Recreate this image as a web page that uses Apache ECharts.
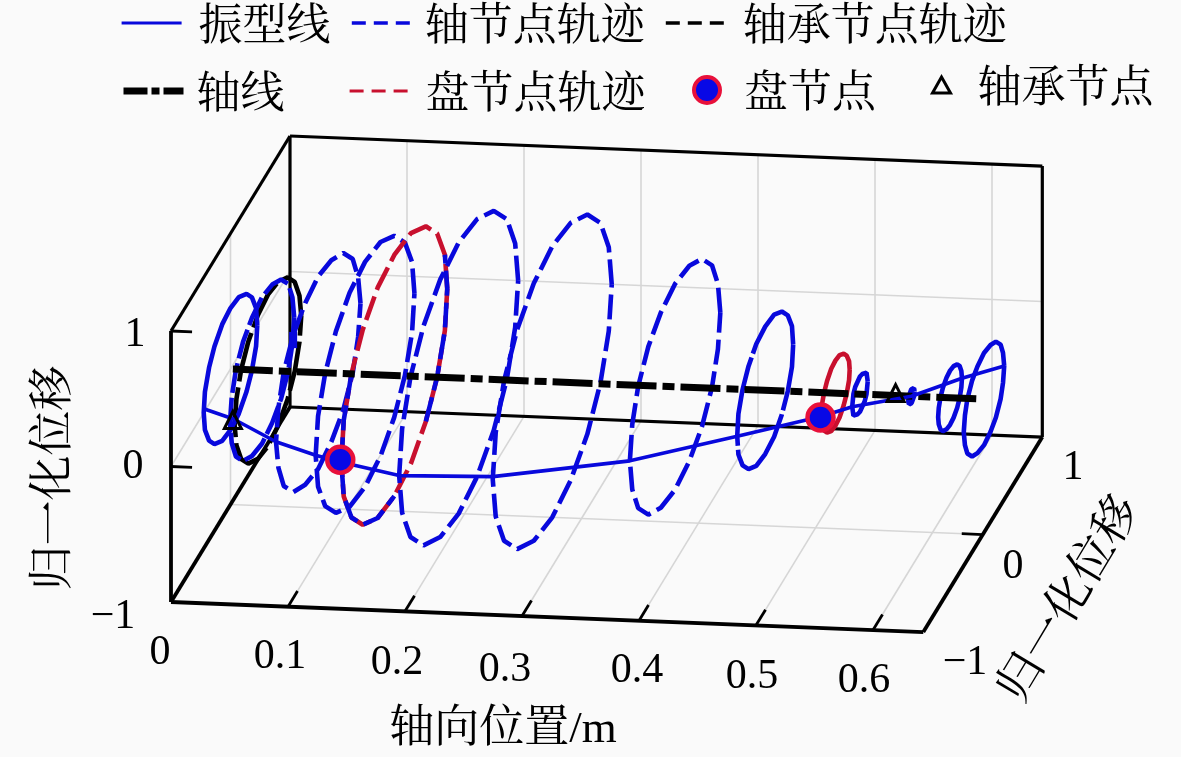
<!DOCTYPE html>
<html><head><meta charset="utf-8">
<style>html,body{margin:0;padding:0;background:#fafafa}#c{width:1181px;height:757px}</style>
<script src="https://cdn.jsdelivr.net/npm/echarts@6/dist/echarts.min.js"></script>
</head><body><div id="c"></div>
<script>
// Axis ticks
const axialTicks=[0,0.1,0.2,0.3,0.4,0.5,0.6];
const axialMax=0.643;
const axialTickLabels=['0','0.1','0.2','0.3','0.4','0.5','0.6'];
const verticalTickLabels=['1','0','\u22121'];
const lateralTickLabels=['1','0','\u22121'];
// Orbits: axial position (m) and [lateral, vertical] normalised displacement
const posO1=0.0;
const orbitO1=[[.45,0],[.43,.14],[.36,.27],[.27,.36],[.14,.43],[0,.45],[-.14,.43],[-.27,.36],[-.36,.27],[-.43,.14],[-.45,0],[-.43,-.14],[-.36,-.27],[-.27,-.36],[-.14,-.43],[0,-.45],[.14,-.43],[.27,-.36],[.36,-.27],[.43,-.14]];
const posO2=0.027;
const orbitO2=[[.54,0],[.51,.17],[.44,.32],[.32,.44],[.17,.51],[0,.54],[-.17,.51],[-.32,.44],[-.44,.32],[-.51,.17],[-.54,0],[-.51,-.17],[-.44,-.32],[-.32,-.44],[-.17,-.51],[0,-.54],[.17,-.51],[.32,-.44],[.44,-.32],[.51,-.17]];
const posBearing1=0.032;
const orbitBearing1=[[.56,0],[.53,.17],[.45,.33],[.33,.45],[.17,.53],[0,.56],[-.17,.53],[-.33,.45],[-.45,.33],[-.53,.17],[-.56,0],[-.53,-.17],[-.45,-.33],[-.33,-.45],[-.17,-.53],[0,-.56],[.17,-.53],[.33,-.45],[.45,-.33],[.53,-.17]];
const posO3=0.075;
const orbitO3=[[.71,0],[.67,.22],[.58,.42],[.42,.58],[.22,.67],[0,.71],[-.22,.67],[-.42,.58],[-.58,.42],[-.67,.22],[-.71,0],[-.67,-.22],[-.58,-.42],[-.42,-.58],[-.22,-.67],[0,-.71],[.22,-.67],[.42,-.58],[.58,-.42],[.67,-.22]];
const posO4=0.115;
const orbitO4=[[.83,0],[.79,.26],[.67,.49],[.49,.67],[.26,.79],[0,.83],[-.26,.79],[-.49,.67],[-.67,.49],[-.79,.26],[-.83,0],[-.79,-.26],[-.67,-.49],[-.49,-.67],[-.26,-.79],[0,-.83],[.26,-.79],[.49,-.67],[.67,-.49],[.79,-.26]];
const posDisc1=0.14;
const orbitDisc1=[[.89,0],[.85,.28],[.72,.53],[.53,.72],[.28,.85],[0,.89],[-.28,.85],[-.53,.72],[-.72,.53],[-.85,.28],[-.89,0],[-.85,-.28],[-.72,-.53],[-.53,-.72],[-.28,-.85],[0,-.89],[.28,-.85],[.53,-.72],[.72,-.53],[.85,-.28]];
// parts of the same orbit where the blue shaft trace covers the red one
const shaftOverDisc1A=[[.53,-.72],[.72,-.53],[.85,-.28],[.89,0],[.85,.28]];
const shaftOverDisc1B=[[-.72,.53],[-.85,.28],[-.89,0],[-.85,-.28],[-.72,-.53],[-.53,-.72],[-.28,-.85],[0,-.89]];
const posO6=0.195;
const orbitO6=[[1,0],[.95,.31],[.81,.59],[.59,.81],[.31,.95],[0,1],[-.31,.95],[-.59,.81],[-.81,.59],[-.95,.31],[-1,0],[-.95,-.31],[-.81,-.59],[-.59,-.81],[-.31,-.95],[0,-1],[.31,-.95],[.59,-.81],[.81,-.59],[.95,-.31]];
const posO7=0.275;
const orbitO7=[[1,0],[.95,.31],[.81,.59],[.59,.81],[.31,.95],[0,1],[-.31,.95],[-.59,.81],[-.81,.59],[-.95,.31],[-1,0],[-.95,-.31],[-.81,-.59],[-.59,-.81],[-.31,-.95],[0,-1],[.31,-.95],[.59,-.81],[.81,-.59],[.95,-.31]];
const posO8=0.38;
const orbitO8=[[.76,0],[.72,.24],[.62,.45],[.45,.62],[.24,.72],[0,.76],[-.24,.72],[-.45,.62],[-.62,.45],[-.72,.24],[-.76,0],[-.72,-.24],[-.62,-.45],[-.45,-.62],[-.24,-.72],[0,-.76],[.24,-.72],[.45,-.62],[.62,-.45],[.72,-.24]];
const posO9=0.457;
const orbitO9=[[.47,0],[.45,.15],[.38,.28],[.28,.38],[.15,.45],[0,.47],[-.15,.45],[-.28,.38],[-.38,.28],[-.45,.15],[-.47,0],[-.45,-.15],[-.38,-.28],[-.28,-.38],[-.15,-.45],[0,-.47],[.15,-.45],[.28,-.38],[.38,-.28],[.45,-.15]];
const posDisc2=0.517;
const orbitDisc2=[[.24,0],[.23,.07],[.19,.14],[.14,.19],[.07,.23],[0,.24],[-.07,.23],[-.14,.19],[-.19,.14],[-.23,.07],[-.24,0],[-.23,-.07],[-.19,-.14],[-.14,-.19],[-.07,-.23],[0,-.24],[.07,-.23],[.14,-.19],[.19,-.14],[.23,-.07]];
const posO11=0.538;
const orbitO11=[[.13,0],[.12,.04],[.11,.08],[.08,.11],[.04,.12],[0,.13],[-.04,.12],[-.08,.11],[-.11,.08],[-.12,.04],[-.13,0],[-.12,-.04],[-.11,-.08],[-.08,-.11],[-.04,-.12],[0,-.13],[.04,-.12],[.08,-.11],[.11,-.08],[.12,-.04]];
const posO12=0.582;
const orbitO12=[[.05,0],[.04,.03],[0,.05],[-.04,.03],[-.05,0],[-.04,-.03],[0,-.05],[.04,-.03]];
const posO13=0.615;
const orbitO13=[[.2,0],[.19,.06],[.16,.12],[.12,.16],[.06,.19],[0,.2],[-.06,.19],[-.12,.16],[-.16,.12],[-.19,.06],[-.2,0],[-.19,-.06],[-.16,-.12],[-.12,-.16],[-.06,-.19],[0,-.2],[.06,-.19],[.12,-.16],[.16,-.12],[.19,-.06]];
const posO14=0.644;
const orbitO14=[[.34,0],[.32,.11],[.28,.2],[.2,.28],[.11,.32],[0,.34],[-.11,.32],[-.2,.28],[-.28,.2],[-.32,.11],[-.34,0],[-.32,-.11],[-.28,-.2],[-.2,-.28],[-.11,-.32],[0,-.34],[.11,-.32],[.2,-.28],[.28,-.2],[.32,-.11]];
const posSpot=0.052;
const spotTrace=[[.03,.15],[.03,.27]];
// Mode shape: [axial, lateral, vertical]
const modeShape=[[0,-.45,.03],[.03,-.54,.03],[.075,-.71,0],[.115,-.83,0],[.14,-.89,0],[.195,-1,0],[.275,-1,.02],[.38,-.76,0],[.457,-.47,0],[.517,-.24,0],[.538,-.13,0],[.582,0,0],[.615,.2,0],[.644,.34,0]];
const shaftAxis=[[0.002,0,0],[0.642,0,0]];
const discNodes=[[.135,-.81,-.04],[.517,-.25,0]];
const bearingNodes=[[.03,-.55,.03],[.57,-.03,.04]];

const BLUE='#0808dc',RED='#c8102e',BLACK='#000',GRAY='#d6d6d6';
const FONT='"Liberation Serif","Noto Serif CJK SC","Noto Sans CJK SC",serif';
const CJK='"Noto Serif CJK SC","Noto Sans CJK SC",serif';
function P(a,d,h){return [171+1170*a+59.5*(d+1),602+46.7*a-135.5*(h+1)-97.5*(d+1)];}
const series=[];
function seg(pts,color,width,z){series.push({type:'line',data:pts,symbol:'none',silent:true,clip:false,z:z,animation:false,lineStyle:{color:color,width:width}});}
// grid lines
axialTicks.forEach(a=>{seg([P(a,1,-1),P(a,1,1)],GRAY,1.6,1);seg([P(a,-1,-1),P(a,1,-1)],GRAY,1.6,1);});
seg([P(0,1,0),P(axialMax,1,0)],GRAY,1.6,1);
seg([P(0,0,-1),P(axialMax,0,-1)],GRAY,1.6,1);
seg([P(0,0,-1),P(0,0,1)],GRAY,1.6,1);
seg([P(0,-1,0),P(0,1,0)],GRAY,1.6,1);
// box
seg([P(0,-1,-1),P(axialMax,-1,-1)],BLACK,3.8,2);
seg([P(axialMax,-1,-1),P(axialMax,1,-1)],BLACK,3.8,2);
seg([P(axialMax,1,-1),P(axialMax,1,1)],BLACK,3.2,2);
seg([P(axialMax,1,1),P(0,1,1)],BLACK,3.2,2);
seg([P(0,1,1),P(0,1,-1)],BLACK,3.2,2);
seg([P(0,1,-1),P(axialMax,1,-1)],BLACK,3.2,2);
seg([P(0,-1,1),P(0,1,1)],BLACK,3.2,2);
seg([P(0,-1,1),P(0,-1,-1)],BLACK,3.8,2);
seg([P(0,-1,-1),P(0,1,-1)],BLACK,3.8,2);
// ticks
axialTicks.slice(1).forEach(a=>seg([P(a,-1,-1),P(a,-.84,-1)],BLACK,2.8,2));
[0,1].forEach(h=>seg([P(0,-1,h),P(.018,-1,h)],BLACK,2.8,2));
seg([P(axialMax,0,-1),P(axialMax-.018,0,-1)],BLACK,2.8,2);
// orbits
function trace(name,pos,pts2,color,dash,width){
  series.push({name:name,type:'line',data:pts2.map(p=>P(pos,p[0],p[1])),symbol:'none',silent:true,clip:false,z:3,animation:false,
    lineStyle:{color:color,width:width||4.6,type:dash||'solid'}});
}
function orbit(name,pos,ring,color,dash,width){trace(name,pos,ring.concat([ring[0]]),color,dash,width);}
const D=[25,7];
orbit('轴承节点轨迹',posBearing1,orbitBearing1,BLACK,[50,6]);
orbit('轴节点轨迹',posO1,orbitO1,BLUE,'solid');
orbit('轴节点轨迹',posO2,orbitO2,BLUE,[30,5]);
orbit('轴节点轨迹',posO3,orbitO3,BLUE,D);
orbit('轴节点轨迹',posO4,orbitO4,BLUE,D);
orbit('盘节点轨迹',posDisc1,orbitDisc1,RED,D);
trace('轴节点轨迹',posDisc1,shaftOverDisc1A,BLUE,D);
trace('轴节点轨迹',posDisc1,shaftOverDisc1B,BLUE,D);
orbit('轴节点轨迹',posO6,orbitO6,BLUE,D);
orbit('轴节点轨迹',posO7,orbitO7,BLUE,D);
orbit('轴节点轨迹',posO8,orbitO8,BLUE,D);
orbit('轴节点轨迹',posO9,orbitO9,BLUE,[90,4]);
orbit('盘节点轨迹',posDisc2,orbitDisc2,RED,'solid');
orbit('轴节点轨迹',posO11,orbitO11,BLUE,'solid');
orbit('轴节点轨迹',posO12,orbitO12,BLUE,'solid',5);
orbit('轴节点轨迹',posO13,orbitO13,BLUE,'solid');
orbit('轴节点轨迹',posO14,orbitO14,BLUE,'solid');
trace('轴节点轨迹',posSpot,spotTrace,BLUE,'solid',8);
series.push({name:'轴线',type:'line',data:shaftAxis.map(p=>P(p[0],p[1],p[2])),symbol:'none',silent:true,clip:false,z:4,animation:false,
  lineStyle:{color:BLACK,width:7,type:[40,6,12,6]}});
series.push({name:'振型线',type:'line',data:modeShape.map(p=>P(p[0],p[1],p[2])),symbol:'none',silent:true,clip:false,z:5,animation:false,
  lineStyle:{color:BLUE,width:3.6}});
series.push({name:'盘节点',type:'scatter',data:discNodes.map(p=>P(p[0],p[1],p[2])),symbol:'circle',symbolSize:26,silent:true,clip:false,z:6,animation:false,
  itemStyle:{color:'#0808e6',borderColor:'#e8103a',borderWidth:4.5,opacity:1}});
series.push({name:'轴承节点',type:'scatter',data:bearingNodes.map(p=>P(p[0],p[1],p[2])),symbol:'triangle',symbolSize:17,silent:true,clip:false,z:6,animation:false,
  itemStyle:{color:'rgba(0,0,0,0)',borderColor:BLACK,borderWidth:3,opacity:1}});
const noSymbol={color:'rgba(0,0,0,0)',borderColor:'rgba(0,0,0,0)',borderWidth:0};
function leg(name,left,top,w,h,ls,gap,icon,st){
  const o={data:[icon?{name:name,icon:icon}:name],left:left,top:top,itemWidth:w,itemHeight:h,padding:0,orient:'horizontal',selectedMode:false,
    textStyle:{fontFamily:CJK,fontSize:44,color:'#000',padding:[0,0,0,gap]}};
  if(ls)o.lineStyle=Object.assign({opacity:1},ls);
  o.itemStyle=st||noSymbol; return o;
}
const legends=[
 leg('振型线',120,1,60,42,{color:BLUE,width:3.2},12),
 leg('轴节点轨迹',350,1,62,42,{color:BLUE,width:3.6,type:[14,8]},6),
 leg('轴承节点轨迹',664,1,63,42,{color:BLACK,width:3.6,type:[14,8]},9),
 leg('轴线',120,69,60,42,{color:BLACK,width:7,type:[24,4,8,4]},8),
 leg('盘节点轨迹',348,69,64,42,{color:RED,width:3.2,type:[14,8]},7),
 leg('盘节点',692,68,26,26,null,19,'circle',{color:'#0808e6',borderColor:'#e8103a',borderWidth:4,opacity:1}),
 leg('轴承节点',931,63,18,16,null,22,'triangle',{color:'rgba(0,0,0,0)',borderColor:BLACK,borderWidth:3,opacity:1})
];
function txt(s,x,y,size,font,rot){return {type:'text',x:x,y:y,rotation:rot||0,z:20,style:{text:s,x:0,y:0,fill:'#000',fontSize:size,fontFamily:font,textAlign:'center',textVerticalAlign:'middle'}};}
const axX=[[160,653],[280,657],[397,663],[505,670],[637,671],[752,677],[864,681]];
const axV=[[135,335],[133,467],[113,617]];
const axD=[[1073,468],[1013,567],[965,663]];
const graphic=[];
axialTickLabels.forEach((s,i)=>graphic.push(txt(s,axX[i][0],axX[i][1],42,FONT)));
verticalTickLabels.forEach((s,i)=>graphic.push(txt(s,axV[i][0],axV[i][1],42,FONT)));
lateralTickLabels.forEach((s,i)=>graphic.push(txt(s,axD[i][0],axD[i][1],42,FONT)));
graphic.push(txt('轴向位置/m',503,730,45,FONT));
graphic.push(txt('归一化位移',50,478,45,CJK,Math.PI/2));
graphic.push(txt('归一化位移',1066,597,46,CJK,59*Math.PI/180));
const chart=echarts.init(document.getElementById('c'),null,{renderer:'canvas',width:1181,height:757});
chart.setOption({backgroundColor:'#fafafa',animation:false,
  grid:{left:0,right:0,top:0,bottom:0},
  xAxis:{type:'value',min:0,max:1181,show:false},
  yAxis:{type:'value',min:0,max:757,inverse:true,show:false},
  legend:legends,series:series,graphic:graphic,tooltip:{show:false}});
</script></body></html>
